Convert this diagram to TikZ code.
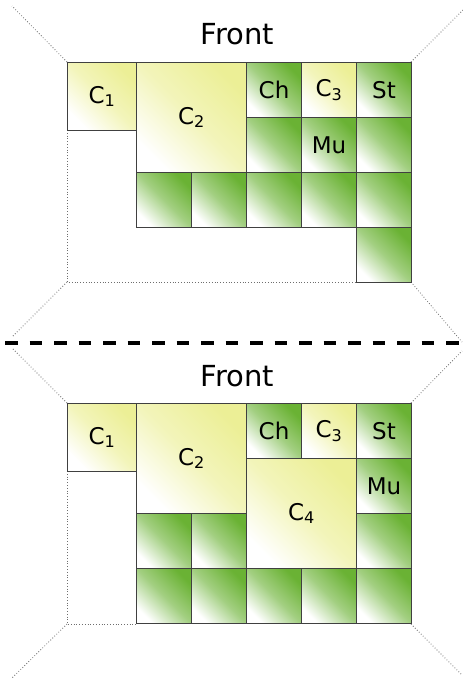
\documentclass[tikz,border=0pt]{standalone}
\usepackage{fontspec}
\setmainfont{DejaVu Sans}
\definecolor{leafgreen}{RGB}{106,178,52}
\definecolor{paleyellow}{RGB}{236,239,150}
\definecolor{cellline}{RGB}{64,64,64}
\definecolor{guidegray}{RGB}{110,110,110}
\begin{document}
\begin{tikzpicture}[x=1pt,y=-1pt,
  cell/.style={draw=cellline, line width=1.1pt, inner sep=0pt, anchor=north west,
    font=\fontsize{23}{23}\selectfont},
  unit/.style={cell, minimum width=55pt, minimum height=55pt},
  greenfill/.style={bottom color=white, top color=leafgreen,
    middle color=leafgreen!62!white, shading angle=-45},
  yellowfill/.style={bottom color=white, top color=paleyellow,
    middle color=paleyellow!65!white, shading angle=-45},
  guide/.style={draw=guidegray, line width=0.8pt, dash pattern=on 0.8pt off 2pt},
  separator/.style={line width=3.5pt, dash pattern=on 12.5pt off 12pt},
  title/.style={anchor=base, font=\fontsize{29}{29}\selectfont}]
\useasboundingbox (0,0) rectangle (463,681);

% ---------- upper layout ----------
\draw[guide] (67,130) -- (67,282) -- (356,282);
\draw[guide] (67,62) -- (12,6);
\draw[guide] (411,62) -- (463,10);
\draw[guide] (67,282) -- (12,337);
\draw[guide] (411,282) -- (462,342);
\node[title] (t-front) at (237.5,44) {Front};

\node[cell, yellowfill, minimum width=69pt, minimum height=68pt] (t-c1) at (67,62) {C\textsubscript{1}};
\node[cell, yellowfill, minimum width=110pt, minimum height=110pt] (t-c2) at (136,62) {C\textsubscript{2}};
\node[unit, greenfill] (t-ch) at (246,62) {Ch};
\node[unit, yellowfill] (t-c3) at (301,62) {C\textsubscript{3}};
\node[unit, greenfill] (t-st) at (356,62) {St};
\node[unit, greenfill] (t-g1) at (246,117) {};
\node[unit, greenfill] (t-mu) at (301,117) {Mu};
\node[unit, greenfill] (t-g2) at (356,117) {};
\node[unit, greenfill] (t-g3) at (136,172) {};
\node[unit, greenfill] (t-g4) at (191,172) {};
\node[unit, greenfill] (t-g5) at (246,172) {};
\node[unit, greenfill] (t-g6) at (301,172) {};
\node[unit, greenfill] (t-g7) at (356,172) {};
\node[unit, greenfill] (t-g8) at (356,227) {};

% ---------- separator ----------
\draw[separator] (5,343) -- (463,343);

% ---------- lower layout ----------
\draw[guide] (67,471) -- (67,624) -- (136,624);
\draw[guide] (67,403) -- (12,348);
\draw[guide] (411,403) -- (462,351);
\draw[guide] (67,624) -- (12,678);
\draw[guide] (411,624) -- (462,675);
\node[title] (b-front) at (237.5,386) {Front};

\node[cell, yellowfill, minimum width=69pt, minimum height=68pt] (b-c1) at (67,403) {C\textsubscript{1}};
\node[cell, yellowfill, minimum width=110pt, minimum height=110pt] (b-c2) at (136,403) {C\textsubscript{2}};
\node[unit, greenfill] (b-ch) at (246,403) {Ch};
\node[unit, yellowfill] (b-c3) at (301,403) {C\textsubscript{3}};
\node[unit, greenfill] (b-st) at (356,403) {St};
\node[unit, greenfill] (b-mu) at (356,458) {Mu};
\node[cell, yellowfill, minimum width=110pt, minimum height=110pt] (b-c4) at (246,458) {C\textsubscript{4}};
\node[unit, greenfill] (b-g1) at (136,513) {};
\node[unit, greenfill] (b-g2) at (191,513) {};
\node[unit, greenfill] (b-g3) at (356,513) {};
\node[unit, greenfill] (b-g4) at (136,568) {};
\node[unit, greenfill] (b-g5) at (191,568) {};
\node[unit, greenfill] (b-g6) at (246,568) {};
\node[unit, greenfill] (b-g7) at (301,568) {};
\node[unit, greenfill] (b-g8) at (356,568) {};
\end{tikzpicture}
\end{document}
